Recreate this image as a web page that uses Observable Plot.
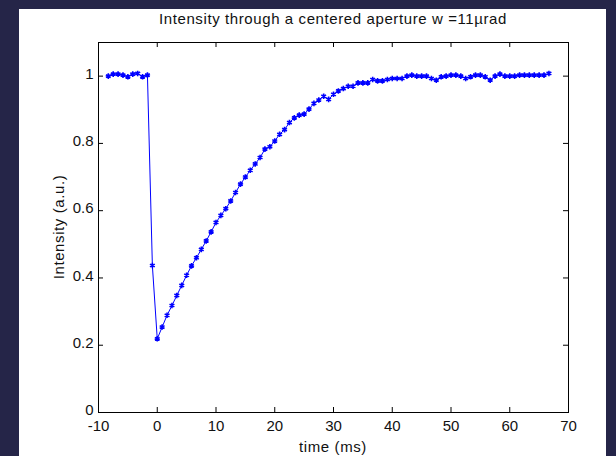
<!DOCTYPE html>
<html>
<head>
<meta charset="utf-8">
<script src="https://cdn.jsdelivr.net/npm/d3@7"></script>
<script src="https://cdn.jsdelivr.net/npm/@observablehq/plot@0.6"></script>
<style>
  html, body { margin: 0; padding: 0; width: 616px; height: 456px; overflow: hidden; background: #252548; }
  body { font-family: "Liberation Sans", Arial, sans-serif; }
  #panel { position: absolute; left: 19px; top: 9px; width: 587px; height: 447px; background: #fff; }
  #chart { position: absolute; left: 0; top: 0; }
  .lbl { position: absolute; font-size: 15px; letter-spacing: 0.6px; color: #111; white-space: nowrap; line-height: 15px; }
  #title { left: 14px; width: 600px; text-align: center; top: 2px; }
  #xlabel { left: 14px; width: 600px; text-align: center; top: 430px; }
  #ylabel { left: 39px; top: 218px; transform: translate(-50%, -50%) rotate(-90deg); }
</style>
</head>
<body>
<div id="panel">
  <div id="chart"></div>
  <div class="lbl" id="title">Intensity through a centered aperture w =11µrad</div>
  <div class="lbl" id="xlabel">time (ms)</div>
  <div class="lbl" id="ylabel">Intensity (a.u.)</div>
</div>
<script>
const time = [
  -8.33, -7.50, -6.67, -5.83, -5.00, -4.17, -3.33, -2.50, -1.67, -0.83,
  0.00, 0.83, 1.67, 2.50, 3.33, 4.17, 5.00, 5.83, 6.67, 7.50,
  8.33, 9.17, 10.00, 10.83, 11.67, 12.50, 13.33, 14.17, 15.00, 15.83,
  16.67, 17.50, 18.33, 19.17, 20.00, 20.83, 21.67, 22.50, 23.33, 24.17,
  25.00, 25.83, 26.67, 27.50, 28.33, 29.17, 30.00, 30.83, 31.67, 32.50,
  33.33, 34.17, 35.00, 35.83, 36.67, 37.50, 38.33, 39.17, 40.00, 40.83,
  41.67, 42.50, 43.33, 44.17, 45.00, 45.83, 46.67, 47.50, 48.33, 49.17,
  50.00, 50.83, 51.67, 52.50, 53.33, 54.17, 55.00, 55.83, 56.67, 57.50,
  58.33, 59.17, 60.00, 60.83, 61.67, 62.50, 63.33, 64.17, 65.00, 65.83,
  66.67
];
const intensity = [
  1.000, 1.006, 1.006, 1.003, 0.998, 1.006, 1.008, 0.998, 1.003, 0.437,
  0.219, 0.254, 0.289, 0.318, 0.348, 0.378, 0.408, 0.436, 0.460, 0.485,
  0.510, 0.537, 0.565, 0.586, 0.606, 0.629, 0.654, 0.679, 0.700, 0.720,
  0.739, 0.758, 0.783, 0.790, 0.807, 0.827, 0.841, 0.862, 0.876, 0.884,
  0.887, 0.902, 0.919, 0.929, 0.940, 0.931, 0.946, 0.956, 0.963, 0.970,
  0.970, 0.980, 0.980, 0.980, 0.990, 0.986, 0.986, 0.990, 0.993, 0.993,
  0.993, 1.000, 1.003, 1.000, 1.000, 1.000, 0.993, 0.988, 0.998, 1.000,
  1.003, 1.003, 1.000, 0.993, 0.998, 1.003, 1.003, 0.998, 0.988, 1.000,
  1.006, 1.000, 1.000, 1.000, 1.003, 1.003, 1.003, 1.003, 1.003, 1.003,
  1.008
];
const xTicks = [-10, 0, 10, 20, 30, 40, 50, 60, 70];
const yTicks = [0, 0.2, 0.4, 0.6, 0.8, 1];

const data = time.map((t, i) => ({t, v: intensity[i]}));
const fmt = d => String(d);

const chart = Plot.plot({
  width: 587,
  height: 447,
  marginLeft: 79,
  marginRight: 38,
  marginTop: 33,
  marginBottom: 44,
  style: {fontFamily: '"Liberation Sans", Arial, sans-serif', fontSize: "15px", color: "#111", background: "#fff", overflow: "visible"},
  x: {domain: [-10, 70]},
  y: {domain: [0, 1.1]},
  marks: [
    Plot.axisX(xTicks, {tickSize: 0, tickPadding: 8, tickFormat: fmt, label: null}),
    Plot.axisY(yTicks, {tickSize: 0, tickPadding: 5, tickFormat: fmt, label: null, dy: -2}),
    Plot.tickX(xTicks, {x: d => d, insetTop: 365, stroke: "#000"}),
    Plot.tickX(xTicks, {x: d => d, insetBottom: 365, stroke: "#000"}),
    Plot.tickY(yTicks, {y: d => d, insetRight: 465, stroke: "#000"}),
    Plot.tickY(yTicks, {y: d => d, insetLeft: 465, stroke: "#000"}),
    Plot.frame({stroke: "#000"}),
    Plot.line(data, {x: "t", y: "v", stroke: "#0000ff", strokeWidth: 1}),
    Plot.dot(data, {x: "t", y: "v", symbol: "asterisk", r: 2.6, stroke: "#0000ff", strokeWidth: 1.6})
  ]
});
document.getElementById("chart").appendChild(chart);
</script>
</body>
</html>
